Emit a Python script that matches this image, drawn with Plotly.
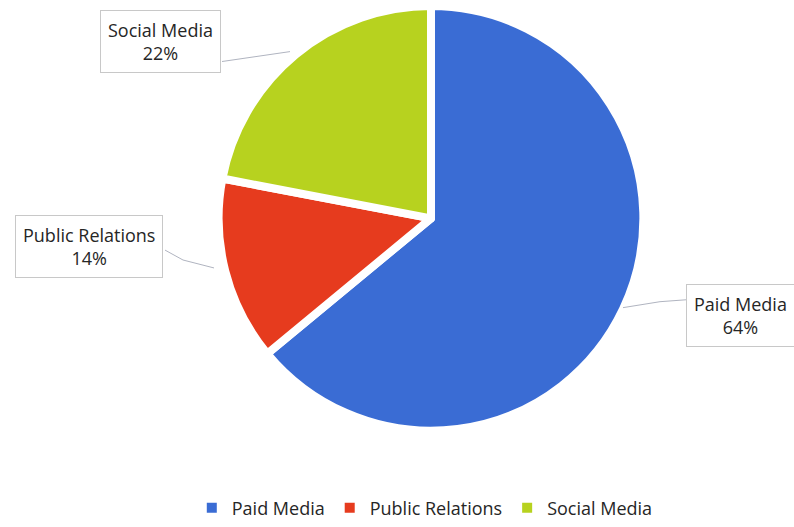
import plotly.graph_objects as go

# Marketing spend split
categories = ["Paid Media", "Public Relations", "Social Media"]
shares = [64, 14, 22]
colors = ["#3a6cd4", "#e63b1e", "#b7d21f"]

W, H = 794, 527
FONT = "Open Sans, Liberation Sans, sans-serif"


def px_x(x):
    return x / W


def px_y(y):
    return 1 - y / H


total = sum(shares)
pcts = [round(100 * v / total) for v in shares]

fig = go.Figure(
    go.Pie(
        labels=categories,
        values=shares,
        sort=False,
        direction="clockwise",
        rotation=0,
        textinfo="none",
        hoverinfo="label+percent",
        marker=dict(colors=colors, line=dict(color="white", width=8)),
        domain=dict(x=[px_x(217), px_x(645)], y=[px_y(434), px_y(6)]),
    )
)

# Callout boxes (center position in px) and leader lines (px)
callouts = {
    "Social Media": dict(box=(160, 42), line=[(222, 62), (290, 52)]),
    "Public Relations": dict(box=(89, 248), line=[(165, 252), (183, 262), (214, 270)]),
    "Paid Media": dict(box=(740, 318), line=[(623, 310), (660, 304), (687, 302)]),
}

annotations = []
shapes = []
for name, pct in zip(categories, pcts):
    c = callouts[name]
    bx, by = c["box"]
    annotations.append(
        dict(
            x=px_x(bx), y=px_y(by), xref="paper", yref="paper",
            text=f"{name}<br>{pct}%", showarrow=False,
            font=dict(family=FONT, size=18, color="#262626"),
            align="center", xanchor="center", yanchor="middle",
            bgcolor="white", bordercolor="#c8c8c8", borderwidth=1, borderpad=7,
        )
    )
    pts = c["line"]
    path = "M " + " L ".join(f"{px_x(x)},{px_y(y)}" for x, y in pts)
    shapes.append(dict(type="path", xref="paper", yref="paper", path=path,
                       line=dict(color="#b0b4c0", width=1)))

fig.update_layout(
    width=W, height=H,
    margin=dict(l=0, r=0, t=0, b=0),
    paper_bgcolor="white",
    plot_bgcolor="white",
    showlegend=True,
    legend=dict(
        orientation="h", x=0.535, xanchor="center", y=px_y(512), yanchor="middle",
        font=dict(family=FONT, size=18, color="#262626"),
        itemsizing="constant",
    ),
    annotations=annotations,
    shapes=shapes,
)

fig.write_html("out.html")
